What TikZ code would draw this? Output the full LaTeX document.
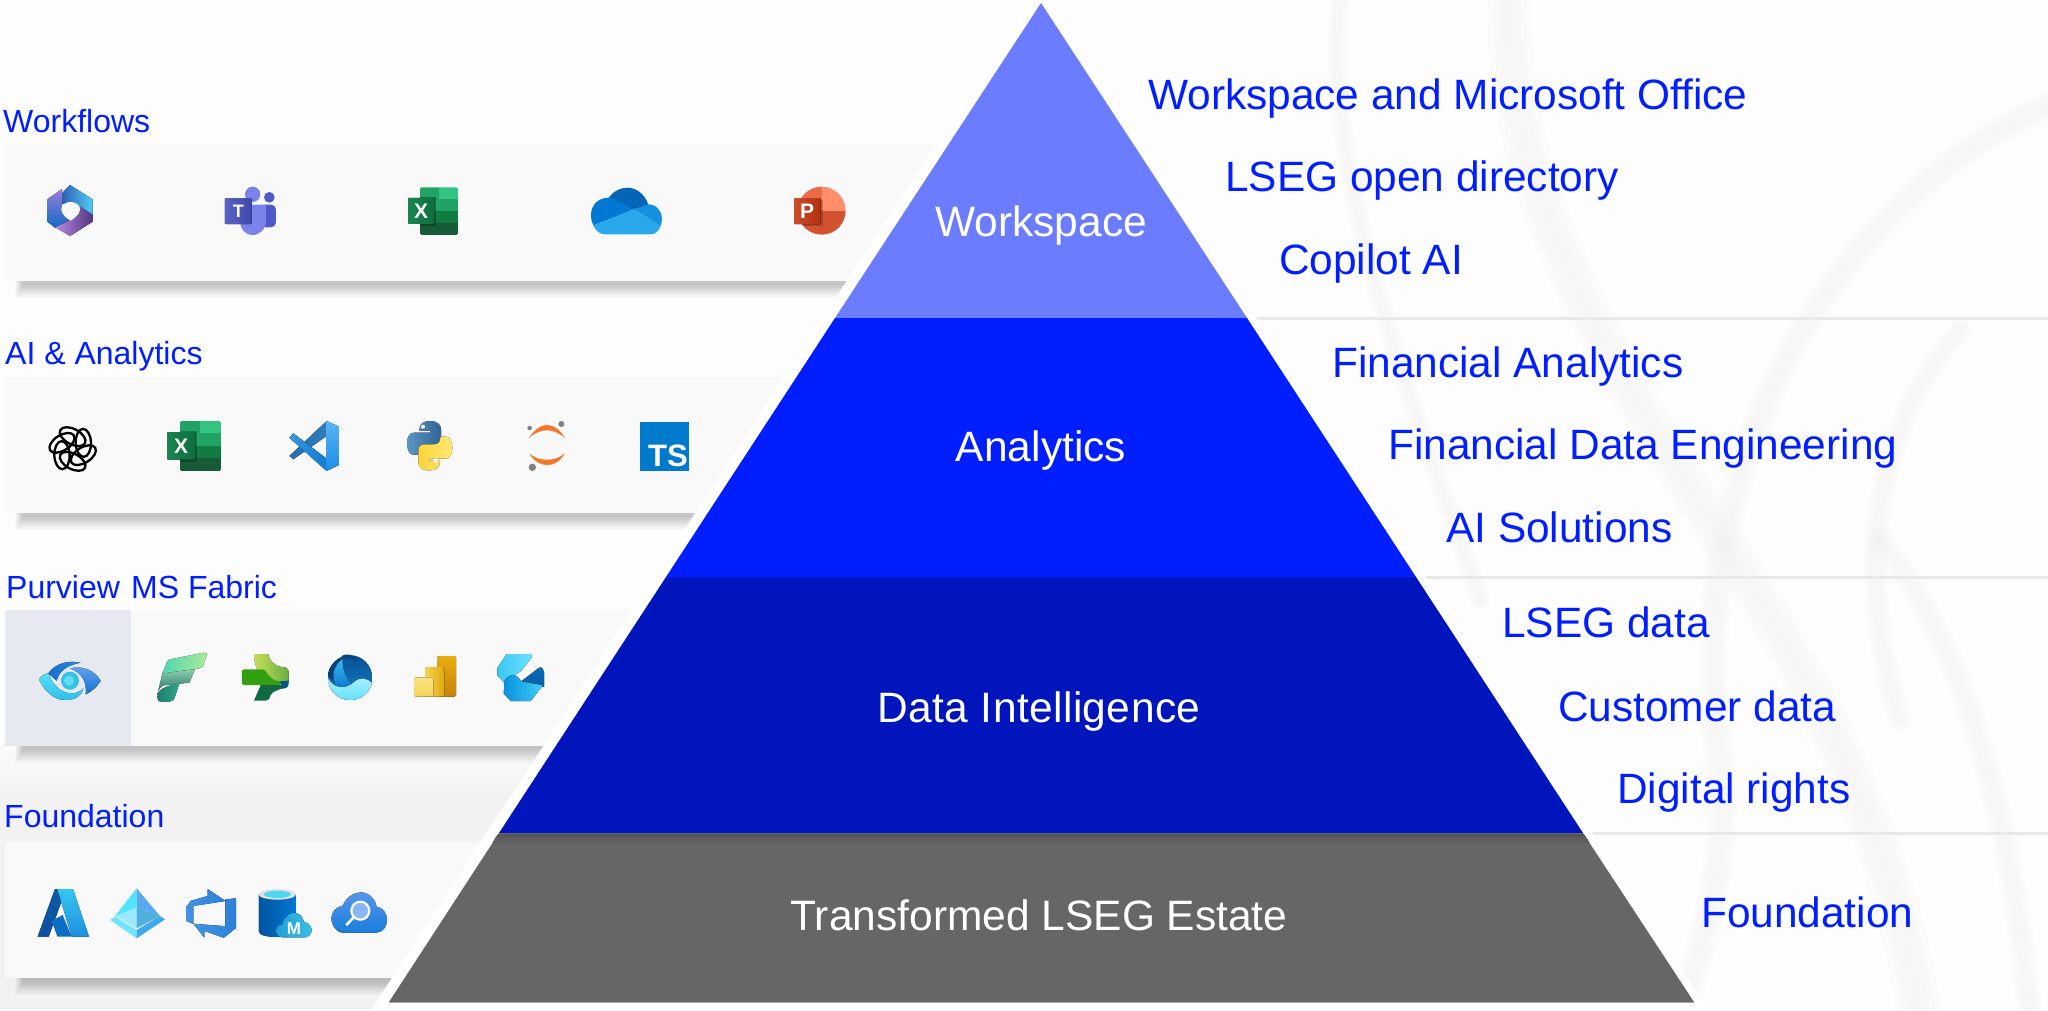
\documentclass[tikz,border=0pt]{standalone}
\usepackage{fontspec}
\setmainfont{Liberation Sans}
\usetikzlibrary{calc}
\definecolor{tblue}{HTML}{001EFF}
\definecolor{bandA}{HTML}{6B7CFF}
\definecolor{bandB}{HTML}{001EFF}
\definecolor{bandC}{HTML}{0015BC}
\definecolor{bandD}{HTML}{666666}
\definecolor{panelbg}{HTML}{F9F9F9}
\definecolor{purbg}{HTML}{E6E9EF}
\definecolor{sepgray}{HTML}{E8E8E8}
\definecolor{bgbase}{HTML}{FDFDFD}
\definecolor{bglow}{HTML}{F2F2F2}
\definecolor{swoosh}{HTML}{E9E9E9}
\tikzset{
  z/.style 2 args={shift={(#1,#2)},x=0.33333pt,y=-0.33333pt},
  panel/.style={fill=panelbg,draw=none},
  band/.style={draw=none},
  sidelabel/.style={anchor=base west,inner sep=0pt,text=tblue,font=\fontsize{42.4}{50}\selectfont},
  leftlabel/.style={anchor=base west,inner sep=0pt,text=tblue,font=\fontsize{32}{38}\selectfont},
  midlabel/.style={anchor=base,inner sep=0pt,text=white,font=\fontsize{42.5}{50}\selectfont},
  logotext/.style={inner sep=0pt,text=white,font=\bfseries\fontsize{#1}{#1}\selectfont},
  sw/.style={draw=swoosh,line cap=round,fill=none},
}
\newcommand\panelshadow[3]{% left, right, bottom
  \foreach \i in {0,...,13}{
    \fill[black,opacity=.017] (#1+10+\i*.6,#3) rectangle (#2,#3+17-\i);
  }}
\newcommand\softcurve[2]{% width, path
  \foreach \w in {1,.75,.5,.25}{
    \draw[sw,opacity=.07,line width=\w*#1] #2;
  }}
\newcommand\excelicon[5]{% x y xs ys name
  \begin{scope}[shift={(#1,#2)},x=#3pt,y=-#4pt]
    \begin{scope}
    \clip[rounded corners=1.5pt] (36,0) rectangle (150,143);
    \fill[color={rgb,255:red,33;green,163;blue,102}] (36,0) rectangle (93,71);
    \fill[color={rgb,255:red,51;green,196;blue,129}] (93,0) rectangle (150,35);
    \fill[color={rgb,255:red,33;green,163;blue,102}] (93,35) rectangle (150,71);
    \fill[color={rgb,255:red,16;green,124;blue,65}] (36,71) rectangle (150,106);
    \fill[color={rgb,255:red,24;green,92;blue,55}] (36,106) rectangle (150,143);
    \end{scope}
    \fill[black,opacity=.25] (36,28) rectangle (84,116);
    \fill[rounded corners=1pt,left color={rgb,255:red,24;green,133;blue,80},right color={rgb,255:red,14;green,110;blue,60}] (0,32) rectangle (79,110);
    \node[logotext=21] (#5) at (39,71) {X};
  \end{scope}}
\begin{document}
\begin{tikzpicture}[x=1pt,y=-1pt]
\useasboundingbox (0,0) rectangle (2048,1010);
\begin{scope}
\clip (0,0) rectangle (2048,1010);
% background
\fill[bgbase] (0,0) rectangle (2048,1010);
\fill[top color=bgbase,bottom color=bglow] (0,735) rectangle (600,800);
\fill[bglow] (0,800) rectangle (600,1010);
% swooshes
\softcurve{44pt}{(1510,-10) .. controls (1500,200) and (1620,380) .. (1760,600) .. controls (1850,750) and (1900,880) .. (1920,1020)}
\softcurve{26pt}{(1880,540) .. controls (1960,640) and (2010,800) .. (2030,1020)}
\softcurve{30pt}{(2060,100) .. controls (1820,200) and (1680,480) .. (1720,760) .. controls (1730,860) and (1700,950) .. (1680,1020)}
\softcurve{24pt}{(1960,330) .. controls (1880,420) and (1850,560) .. (1900,720)}
\softcurve{20pt}{(1340,0) .. controls (1320,180) and (1420,420) .. (1480,600)}
% separators
\draw[sepgray,line width=3pt] (1200,318) -- (2048,318);
\draw[sepgray,line width=3pt] (1350,577) -- (2048,577);
\draw[sepgray,line width=3pt] (1500,833) -- (2048,833);
% panels
\panelshadow{5}{960}{281}
\panelshadow{5}{800}{513}
\panelshadow{5}{640}{746}
\panelshadow{5}{520}{978}
\fill[panel] (5,144) rectangle (960,281);
\fill[panel] (5,377) rectangle (800,513);
\fill[panel] (5,610) rectangle (640,746);
\fill[purbg] (5,610) rectangle (131,746);
\fill[panel] (5,842) rectangle (520,978);

% ---- Workflows icons
\begin{scope}[z={30}{170}]
  % M365
  \fill[left color={rgb,255:red,45;green,95;blue,184},right color={rgb,255:red,79;green,205;blue,242}] (120,45) -- (188,88) -- (188,138) -- (150,112) -- (96,100) -- (94,72) -- cycle;
  \fill[top color={rgb,255:red,154;green,125;blue,224},bottom color={rgb,255:red,13;green,108;blue,192}] (96,57) -- (52,88) -- (52,155) -- (76,174) -- (120,150) -- (96,125) -- cycle;
  \fill[left color={rgb,255:red,180;green,138;blue,224},right color={rgb,255:red,84;green,52;blue,130}] (76,172) -- (120,198) -- (188,155) -- (188,134) -- (150,110) -- (148,132) -- (120,150) -- cycle;
  \fill[panelbg] (94,118) .. controls (94,104) and (108,96) .. (122,96) .. controls (136,96) and (150,104) .. (150,118) .. controls (150,132) and (132,146) .. (122,152) .. controls (110,146) and (94,132) .. (94,118) -- cycle;
  % Teams
  \fill[color={rgb,255:red,80;green,89;blue,201}] (718,82) circle[radius=16];
  \fill[color={rgb,255:red,80;green,89;blue,201},rounded corners=5pt] (690,104) -- (738,104) -- (738,172) -- (690,172) -- cycle;
  \fill[color={rgb,255:red,123;green,131;blue,235}] (668,73) circle[radius=23];
  \fill[color={rgb,255:red,123;green,131;blue,235}] (630,104) -- (708,104) -- (708,150) .. controls (708,178) and (690,195) .. (668,195) .. controls (646,195) and (630,178) .. (630,150) -- cycle;
  \fill[left color={rgb,255:red,90;green,98;blue,195},right color={rgb,255:red,64;green,71;blue,171},rounded corners=1pt] (585,84) rectangle (665,162);
  \node[logotext=18] (tteams) at (625,124) {T};
\end{scope}
\excelicon{408}{187.3}{.3333}{.3333}{xlone}
\begin{scope}[z={390}{170}]
  % OneDrive
  \fill[color={rgb,255:red,3;green,100;blue,184}] (655,85) .. controls (670,62) and (695,53) .. (712,53) .. controls (745,53) and (768,80) .. (775,105) -- (733,118) -- cycle;
  \fill[color={rgb,255:red,0;green,120;blue,212}] (733,118) -- (660,83) .. controls (625,82) and (603,105) .. (603,135) .. controls (603,148) and (606,158) .. (610,166) -- cycle;
  \fill[color={rgb,255:red,20;green,144;blue,223}] (733,118) -- (775,103) .. controls (800,103) and (816,125) .. (816,145) .. controls (816,155) and (814,162) .. (812,168) -- cycle;
  \fill[color={rgb,255:red,40;green,168;blue,234}] (610,166) -- (733,118) -- (812,168) .. controls (805,185) and (795,193) .. (780,193) -- (645,193) .. controls (630,193) and (616,182) .. (610,166) -- cycle;
  % PowerPoint
  \begin{scope}
    \clip (1295,122) circle[radius=72];
    \fill[color={rgb,255:red,211;green,82;blue,48}] (1215,122) rectangle (1375,200);
    \fill[color={rgb,255:red,237;green,108;blue,71}] (1215,40) rectangle (1295,122);
    \fill[color={rgb,255:red,255;green,143;blue,107}] (1295,40) rectangle (1375,122);
    \fill[black,opacity=.2] (1225,90) rectangle (1298,168);
  \end{scope}
  \fill[left color={rgb,255:red,202;green,76;blue,40},right color={rgb,255:red,179;green,48;blue,16},rounded corners=1pt] (1212,84) rectangle (1292,162);
  \node[logotext=21] (ppt) at (1251,124) {P};
\end{scope}

% ---- AI & Analytics icons
\begin{scope}[z={30}{410}]
  % OpenAI knot
  \foreach \a in {0,60,...,300}{
    \begin{scope}[rotate around={\a:(128,117)}]
      \draw[black,line width=2.3pt,rotate around={-28:(128,80)}] (128,80) ellipse[x radius=42,y radius=23];
    \end{scope}
  }
  % VS Code
  \fill[left color={rgb,255:red,40;green,110;blue,170},right color={rgb,255:red,45;green,125;blue,190}] (778,138) -- (790,148) -- (890,78) -- (890,33) -- cycle;
  \fill[left color={rgb,255:red,55;green,150;blue,225},right color={rgb,255:red,15;green,125;blue,210}] (790,70) -- (778,83) -- (890,183) -- (890,146) -- cycle;
  \fill[top color={rgb,255:red,90;green,180;blue,245},bottom color={rgb,255:red,30;green,140;blue,230}] (890,33) -- (927,50) -- (927,165) -- (890,183) -- cycle;
\end{scope}
\excelicon{167}{421}{.36}{.35}{xltwo}
\begin{scope}[z={380}{410}]
  % Python
  \fill[gray,opacity=.12] (148,181) ellipse[x radius=30,y radius=2];
  \fill[left color={rgb,255:red,90;green,150;blue,195},right color={rgb,255:red,48;green,100;blue,150}] (118,60) .. controls (118,42) and (130,33) .. (150,33) .. controls (172,33) and (183,44) .. (183,58) -- (183,92) .. controls (183,104) and (176,111) .. (165,111) -- (135,111) .. controls (124,111) and (117,118) .. (117,130) -- (117,134) -- (100,134) .. controls (88,134) and (81,118) .. (81,100) .. controls (81,82) and (88,68) .. (102,68) -- (150,68) -- (150,62) -- (118,62) -- cycle;
  \begin{scope}[rotate around={180:(149,107)}]
  \fill[right color={rgb,255:red,255;green,232;blue,115},left color={rgb,255:red,255;green,212;blue,59}] (118,60) .. controls (118,42) and (130,33) .. (150,33) .. controls (172,33) and (183,44) .. (183,58) -- (183,92) .. controls (183,104) and (176,111) .. (165,111) -- (135,111) .. controls (124,111) and (117,118) .. (117,130) -- (117,134) -- (100,134) .. controls (88,134) and (81,118) .. (81,100) .. controls (81,82) and (88,68) .. (102,68) -- (150,68) -- (150,62) -- (118,62) -- cycle;
  \end{scope}
  \fill[white] (129,50) circle[radius=6];
  \fill[white] (167,151) circle[radius=6];
  % Jupyter
  \fill[color={rgb,255:red,243;green,119;blue,38}] (447,84) .. controls (465,56) and (485,45) .. (501,45) .. controls (518,45) and (538,56) .. (555,84) .. controls (535,67) and (518,61) .. (501,61) .. controls (484,61) and (466,67) .. (447,84) -- cycle;
  \fill[color={rgb,255:red,243;green,119;blue,38}] (447,130) .. controls (465,158) and (485,165) .. (501,165) .. controls (518,165) and (538,158) .. (555,130) .. controls (535,146) and (518,149) .. (501,149) .. controls (484,149) and (466,146) .. (447,130) -- cycle;
  \fill[gray] (449,54) circle[radius=7];
  \fill[gray] (544,42) circle[radius=9];
  \fill[gray] (457,172) circle[radius=11];
  % TS
  \fill[color={rgb,255:red,0;green,122;blue,204}] (780,36) rectangle (927,183);
  \node[logotext=31] (tsicon) at (864,136) {TS};
\end{scope}

% ---- Purview / Fabric icons
\begin{scope}[z={20}{640}]
  % Purview eye
  \fill[top color={rgb,255:red,85;green,225;blue,250},bottom color={rgb,255:red,45;green,190;blue,235}] (57,118) .. controls (62,108) and (75,100) .. (85,100) .. controls (95,130) and (120,160) .. (155,160) .. controls (170,160) and (182,155) .. (190,145) .. controls (186,165) and (170,180) .. (135,180) .. controls (100,180) and (72,150) .. (57,118) -- cycle;
  \fill[left color={rgb,255:red,20;green,110;blue,210},right color={rgb,255:red,40;green,140;blue,230}] (85,100) .. controls (105,72) and (140,60) .. (182,68) .. controls (145,75) and (118,90) .. (110,122) -- cycle;
  \fill[top color={rgb,255:red,100;green,165;blue,240},bottom color={rgb,255:red,20;green,115;blue,210}] (150,85) .. controls (195,75) and (225,95) .. (242,122) .. controls (232,140) and (215,155) .. (197,163) .. controls (202,125) and (185,98) .. (150,85) -- cycle;
  \fill[color={rgb,255:red,50;green,195;blue,230}] (150,122) circle[radius=27];
  \fill[color={rgb,255:red,100;green,220;blue,245}] (147,122) circle[radius=15];
  % Fabric
  \fill[left color={rgb,255:red,30;green,125;blue,110},right color={rgb,255:red,45;green,170;blue,140}] (412,170) .. controls (416,148) and (430,140) .. (478,130) -- (465,170) .. controls (462,180) and (455,185) .. (445,185) -- (425,185) .. controls (415,185) and (411,178) .. (412,170) -- cycle;
  \fill[top color={rgb,255:red,140;green,205;blue,175},bottom color={rgb,255:red,25;green,110;blue,95}] (428,97) -- (525,88) -- (508,128) -- (430,136) .. controls (420,140) and (416,148) .. (412,165) -- cycle;
  \fill[left color={rgb,255:red,80;green,215;blue,175},right color={rgb,255:red,170;green,235;blue,150}] (428,100) -- (440,68) .. controls (443,60) and (448,58) .. (455,57) -- (552,38) .. controls (560,37) and (562,40) .. (560,46) -- (550,75) .. controls (548,82) and (545,84) .. (538,85) -- cycle;
  % green cross
  \fill[left color={rgb,255:red,200;green,220;blue,90},right color={rgb,255:red,100;green,175;blue,65}] (702,42) -- (745,42) .. controls (748,68) and (772,82) .. (795,82) .. controls (803,82) and (806,90) .. (806,100) -- (806,128) -- (752,135) .. controls (725,115) and (702,85) .. (702,42) -- cycle;
  \fill[color={rgb,255:red,50;green,160;blue,15},rounded corners=2pt] (666,88) -- (735,88) .. controls (745,110) and (765,125) .. (782,122) -- (782,135) -- (666,135) -- cycle;
  \fill[color={rgb,255:red,15;green,105;blue,65}] (722,135) -- (782,135) -- (800,140) .. controls (780,150) and (760,150) .. (752,165) .. controls (748,178) and (745,182) .. (735,182) -- (702,182) -- cycle;
  \fill[color={rgb,255:red,10;green,85;blue,125}] (780,124) -- (806,122) -- (806,132) .. controls (804,142) and (798,146) .. (785,146) -- cycle;
\end{scope}
\begin{scope}[z={300}{640}]
  % globe
  \fill[top color={rgb,255:red,8;green,80;blue,150},bottom color={rgb,255:red,20;green,130;blue,200}] (150,112) circle[radius=66];
  \fill[color={rgb,255:red,8;green,65;blue,125}] (125,48) .. controls (135,40) and (160,40) .. (172,62) .. controls (150,50) and (135,52) .. (125,60) -- cycle;
  \fill[top color={rgb,255:red,60;green,185;blue,240},bottom color={rgb,255:red,10;green,120;blue,205}] (128,56) .. controls (100,80) and (92,110) .. (110,140) -- (165,145) .. controls (140,120) and (125,90) .. (128,56) -- cycle;
  \fill[top color={rgb,255:red,8;green,70;blue,135},bottom color={rgb,255:red,5;green,60;blue,120}] (84,105) .. controls (86,85) and (100,65) .. (122,56) .. controls (100,80) and (92,100) .. (100,122) -- cycle;
  \fill[top color={rgb,255:red,175;green,240;blue,253},bottom color={rgb,255:red,100;green,225;blue,250}] (84,115) .. controls (105,150) and (140,146) .. (160,128) .. controls (180,110) and (200,112) .. (216,130) .. controls (208,160) and (182,180) .. (150,180) .. controls (112,180) and (84,150) .. (84,115) -- cycle;
  % Power BI
  \fill[top color={rgb,255:red,232;green,172;blue,16},bottom color={rgb,255:red,200;green,130;blue,10},rounded corners=1.5pt] (412,48) rectangle (468,170);
  \fill[left color={rgb,255:red,246;green,210;blue,74},right color={rgb,255:red,224;green,168;blue,16},rounded corners=1.5pt] (377,81) rectangle (433,170);
  \fill[top color={rgb,255:red,250;green,226;blue,130},bottom color={rgb,255:red,245;green,212;blue,90},rounded corners=1.5pt] (343,112) rectangle (400,170);
  % blue hex
  \fill[left color={rgb,255:red,60;green,200;blue,245},right color={rgb,255:red,110;green,225;blue,255}] (620,42) -- (690,42) .. controls (698,42) and (698,48) .. (694,54) -- (664,92) -- (612,128) -- (592,105) -- (592,84) -- cycle;
  \fill[top color={rgb,255:red,10;green,110;blue,190},bottom color={rgb,255:red,8;green,90;blue,160}] (664,124) -- (716,84) .. controls (724,78) and (732,88) .. (732,96) -- (732,140) -- (700,146) -- cycle;
  \fill[left color={rgb,255:red,10;green,145;blue,225},right color={rgb,255:red,65;green,205;blue,245}] (614,122) .. controls (630,100) and (645,96) .. (664,124) -- (728,136) -- (692,183) -- (632,183) -- (611,160) -- cycle;
\end{scope}

% ---- Foundation icons
\begin{scope}[z={0}{790}]
  % Azure A
  \fill[top color={rgb,255:red,10;green,90;blue,165},bottom color={rgb,255:red,14;green,80;blue,160}] (165,297) -- (198,297) -- (146,440) -- (113,440) -- cycle;
  \fill[top color={rgb,255:red,54;green,197;blue,240},bottom color={rgb,255:red,30;green,144;blue,224}] (172,297) -- (219,297) -- (267,440) -- (215,440) -- cycle;
  \fill[color={rgb,255:red,10;green,110;blue,200}] (155,392) -- (188,375) -- (215,440) -- (172,440) -- cycle;
  % Entra
  \fill[color={rgb,255:red,155;green,232;blue,255}] (345,378) -- (410,352) -- (410,415) -- cycle;
  \fill[color={rgb,255:red,80;green,176;blue,221}] (480,378) -- (410,352) -- (410,415) -- cycle;
  \fill[color={rgb,255:red,80;green,230;blue,255}] (410,295) -- (345,378) -- (410,352) -- cycle;
  \fill[color={rgb,255:red,90;green,168;blue,238}] (410,295) -- (480,378) -- (410,352) -- cycle;
  \fill[color={rgb,255:red,112;green,228;blue,255}] (330,390) -- (345,380) -- (410,420) -- (410,445) -- cycle;
  \fill[color={rgb,255:red,62;green,168;blue,236}] (495,388) -- (480,378) -- (410,420) -- (410,445) -- cycle;
\end{scope}
\begin{scope}[shift={(183.1,886)},x=3.125pt,y=-3.04pt]
  % Azure DevOps
  \fill[left color={rgb,255:red,64;green,148;blue,230},right color={rgb,255:red,44;green,128;blue,216}] (17,4) -- (17,13.74) -- (13,17.02) -- (6.8,14.76) -- (6.8,17) -- (3.29,12.41) -- (13.52,13.21) -- (13.52,4.44) -- cycle;
  \fill[left color={rgb,255:red,64;green,148;blue,230},right color={rgb,255:red,44;green,128;blue,216}] (13.59,4.93) -- (7.85,1) -- (7.85,3.29) -- (2.58,4.84) -- (1,6.87) -- (1,11.48) -- (3.26,12.48) -- (3.26,6.57) -- cycle;
\end{scope}
\begin{scope}[z={0}{790}]
  % SQL MI
  \fill[left color={rgb,255:red,0;green,85;blue,160},right color={rgb,255:red,0;green,120;blue,212}] (777,313) -- (777,425) .. controls (777,435) and (800,441) .. (833,441) .. controls (866,441) and (888,435) .. (888,425) -- (888,313) -- cycle;
  \fill[color={rgb,255:red,226;green,226;blue,226}] (832,313) ellipse[x radius=56,y radius=16];
  \fill[color={rgb,255:red,80;green,215;blue,240}] (832,313) ellipse[x radius=41,y radius=11];
  \fill[left color={rgb,255:red,30;green,160;blue,215},right color={rgb,255:red,60;green,190;blue,230}] (848,442) .. controls (835,442) and (828,432) .. (828,422) .. controls (828,412) and (836,404) .. (846,404) .. controls (850,384) and (868,368) .. (882,368) .. controls (896,368) and (908,378) .. (912,396) .. controls (926,398) and (935,410) .. (935,420) .. controls (935,432) and (926,442) .. (915,442) -- cycle;
  \node[logotext=17] (mcloud) at (882,415) {M};
  % cloud search
  \fill[top color={rgb,255:red,85;green,150;blue,235},bottom color={rgb,255:red,25;green,125;blue,220}] (1030,428) .. controls (1005,428) and (994,400) .. (994,385) .. controls (994,365) and (1010,350) .. (1028,347) .. controls (1040,322) and (1060,307) .. (1082,307) .. controls (1105,307) and (1125,325) .. (1130,350) .. controls (1148,352) and (1161,370) .. (1161,390) .. controls (1161,410) and (1148,428) .. (1128,428) -- cycle;
  \draw[white,line width=2.2pt,fill={rgb,255:red,138;green,182;blue,248}] (1081,362) circle[radius=27];
  \draw[white,line width=2.6pt,line cap=round] (1061,382) -- (1040,404);
\end{scope}
% white triangle halo
\fill[white] (1039.5,-14.6) -- (1708,1010) -- (371,1010) -- cycle;
% pyramid bands
\coordinate (apex) at (1041,3);
\coordinate (bl) at (389,1002);
\coordinate (br) at (1694,1002);
\fill[band,bandA] (apex) -- (1247,318) -- (835,318) -- cycle;
\fill[band,bandB] (835,318) -- (1247,318) -- (1416,577) -- (666,577) -- cycle;
\fill[band,bandC] (666,577) -- (1416,577) -- (1583,833) -- (499,833) -- cycle;
\fill[band,bandD] (499,833) -- (1583,833) -- (br) -- (bl) -- cycle;
\fill[top color=bandD!82!black,bottom color=bandD] (498.3,834) -- (1583.7,834) -- (1589,842) -- (493,842) -- cycle;
\draw[gray!70,line width=.8pt] (bl) -- (br);
\end{scope}
% pyramid labels
\node[midlabel] (mWorkspace) at (1041,236) {Workspace};
\node[midlabel] (mAnalytics) at (1041,461) {Analytics};
\node[midlabel] (mData) at (1039,722) {\addfontfeature{LetterSpace=1.0}Data Intelligence};
\node[midlabel] (mEstate) at (1039,930) {Transformed LSEG Estate};
% right labels
\node[sidelabel] (r1) at (1148,109) {Workspace and Microsoft Office};
\node[sidelabel] (r2) at (1225,191) {LSEG open directory};
\node[sidelabel] (r3) at (1279,274) {Copilot AI};
\node[sidelabel] (r4) at (1332,377) {Financial Analytics};
\node[sidelabel] (r5) at (1388,459) {Financial Data Engineering};
\node[sidelabel] (r6) at (1446,542) {AI Solutions};
\node[sidelabel] (r7) at (1502,637) {LSEG data};
\node[sidelabel] (r8) at (1558,721) {Customer data};
\node[sidelabel] (r9) at (1617,803) {Digital rights};
\node[sidelabel] (r10) at (1701,927) {Foundation};
% left labels
\node[leftlabel] (l1) at (3,132) {Workflows};
\node[leftlabel] (l2) at (5,364) {AI \& Analytics};
\node[leftlabel] (l3) at (6,598) {Purview};
\node[leftlabel] (l4) at (131,598) {MS Fabric};
\node[leftlabel] (l5) at (4,827) {Foundation};
\end{tikzpicture}
\end{document}
